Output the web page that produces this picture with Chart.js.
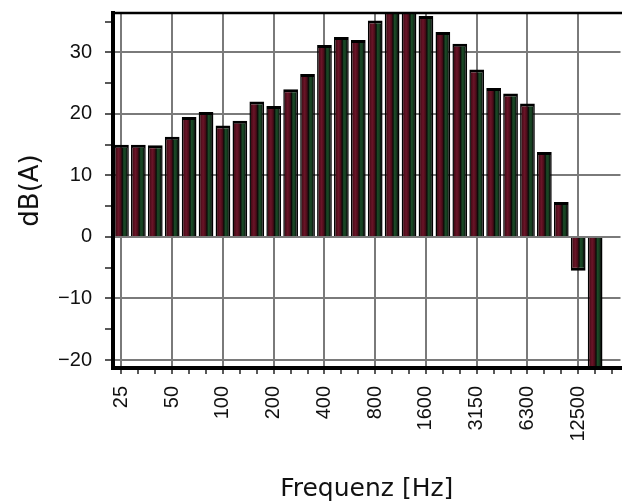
<!DOCTYPE html>
<html>
<head>
<meta charset="utf-8">
<script src="https://cdn.jsdelivr.net/npm/chart.js@4/dist/chart.umd.min.js"></script>
<style>
  html, body { margin: 0; padding: 0; background: #fff; }
  #wrap { width: 622px; height: 504px; }
</style>
</head>
<body>
<div id="wrap"><canvas id="chart"></canvas></div>
<script>
// 1/3 octave bands (Hz) and A-weighted levels
const bands = ['25', '31.5', '40', '50', '63', '80', '100', '125', '160', '200',
    '250', '315', '400', '500', '630', '800', '1000', '1250', '1600', '2000',
    '2500', '3150', '4000', '5000', '6300', '8000', '10000', '12500', '16000', '20000'];
const levels = [15.0, 15.0, 14.9, 16.3, 19.5, 20.3, 18.1, 18.9, 22.0, 21.3,
    24.0, 26.5, 31.2, 32.5, 32.0, 35.2, 37.0, 37.0, 35.9, 33.3,
    31.4, 27.2, 24.2, 23.3, 21.7, 13.8, 5.7, -5.5, -25.0, null];

// labels printed under the x axis
const shownBands = ['25', '50', '100', '200', '400', '800', '1600', '3150', '6300', '12500'];
// labelled y values
const yLabelled = [-20, -10, 0, 10, 20, 30];
const yMin = -21.3;
const yMax = 36.4;

const BAR_PCT = 0.87;
const tickFont = { family: '"Liberation Sans", Arial, sans-serif', size: 20 };

// bars: dark red left half, dark green right half, black edges
function barFill(context) {
    const chart = context.chart;
    const xs = chart.scales.x;
    if (!chart.chartArea || !xs) return '#4e0c1a';
    const cx = xs.getPixelForValue(context.dataIndex);
    const w = (chart.chartArea.width / bands.length) * BAR_PCT;
    const g = chart.ctx.createLinearGradient(cx - w / 2, 0, cx + w / 2, 0);
    g.addColorStop(0, '#0a0404');
    g.addColorStop(0.14, '#4a0c18');
    g.addColorStop(0.3, '#6a1428');
    g.addColorStop(0.46, '#4a0c18');
    g.addColorStop(0.56, '#0a0a08');
    g.addColorStop(0.66, '#1a4a26');
    g.addColorStop(0.78, '#163e20');
    g.addColorStop(0.9, '#080808');
    g.addColorStop(1, '#000000');
    return g;
}

// thin black frame line along the top of the plot
const topFrame = {
    id: 'topFrame',
    afterDatasetsDraw(chart) {
        const { ctx, chartArea } = chart;
        ctx.save();
        ctx.strokeStyle = '#000';
        ctx.lineWidth = 2.5;
        ctx.beginPath();
        ctx.moveTo(chartArea.left, chartArea.top);
        ctx.lineTo(chartArea.right + 2, chartArea.top);
        ctx.stroke();
        ctx.restore();
    }
};

new Chart(document.getElementById('chart'), {
    type: 'bar',
    data: {
        labels: bands,
        datasets: [{
            data: levels,
            backgroundColor: barFill,
            borderColor: '#000',
            borderWidth: { top: 3, bottom: 3, left: 1.5, right: 1.5 },
            borderSkipped: 'start',
            barPercentage: BAR_PCT,
            categoryPercentage: 1,
            clip: 0
        }]
    },
    plugins: [topFrame],
    options: {
        responsive: true,
        maintainAspectRatio: false,
        animation: false,
        layout: { padding: { top: 13, right: 1.5, left: 0, bottom: 0 } },
        plugins: {
            legend: { display: false },
            tooltip: { enabled: false }
        },
        scales: {
            x: {
                afterFit: (s) => {
                    s.height = 136;
                    s.paddingLeft = 0;
                    s.paddingRight = 0;
                },
                border: { color: '#000', width: 4, z: 1 },
                grid: {
                    offset: false,
                    color: (c) => shownBands.includes(bands[c.index]) ? '#7a7a7a' : 'rgba(0,0,0,0)',
                    lineWidth: 2,
                    tickColor: '#222',
                    tickLength: 6,
                    tickWidth: 1.5
                },
                ticks: {
                    autoSkip: false,
                    maxRotation: 90,
                    minRotation: 90,
                    padding: 12,
                    color: '#111',
                    font: tickFont,
                    callback: (val, i) => shownBands.includes(bands[i]) ? bands[i] : ''
                },
                title: {
                    display: true,
                    text: 'Frequenz [Hz]',
                    color: '#111',
                    font: { family: '"DejaVu Sans", sans-serif', size: 25 },
                    padding: { top: 4, bottom: 0 }
                }
            },
            y: {
                min: yMin,
                max: yMax,
                afterFit: (s) => {
                    s.width = 113;
                    s.paddingTop = 0;
                    s.paddingBottom = 0;
                },
                border: { color: '#000', width: 4, z: 1 },
                grid: {
                    color: (c) => yLabelled.includes(c.tick.value) ? '#7a7a7a' : 'rgba(0,0,0,0)',
                    lineWidth: 2,
                    tickColor: '#222',
                    tickLength: 8,
                    tickWidth: 1.5
                },
                ticks: {
                    stepSize: 2.5,
                    includeBounds: false,
                    padding: 13,
                    color: '#111',
                    font: tickFont,
                    callback: (v) => yLabelled.includes(v) ? (v < 0 ? '\u2212' + Math.abs(v) : String(v)) : ''
                },
                title: {
                    display: true,
                    text: 'dB(A)',
                    color: '#111',
                    font: { family: '"DejaVu Sans", sans-serif', size: 26 },
                    padding: { top: 16, bottom: 0 }
                }
            }
        }
    }
});
</script>
</body>
</html>
